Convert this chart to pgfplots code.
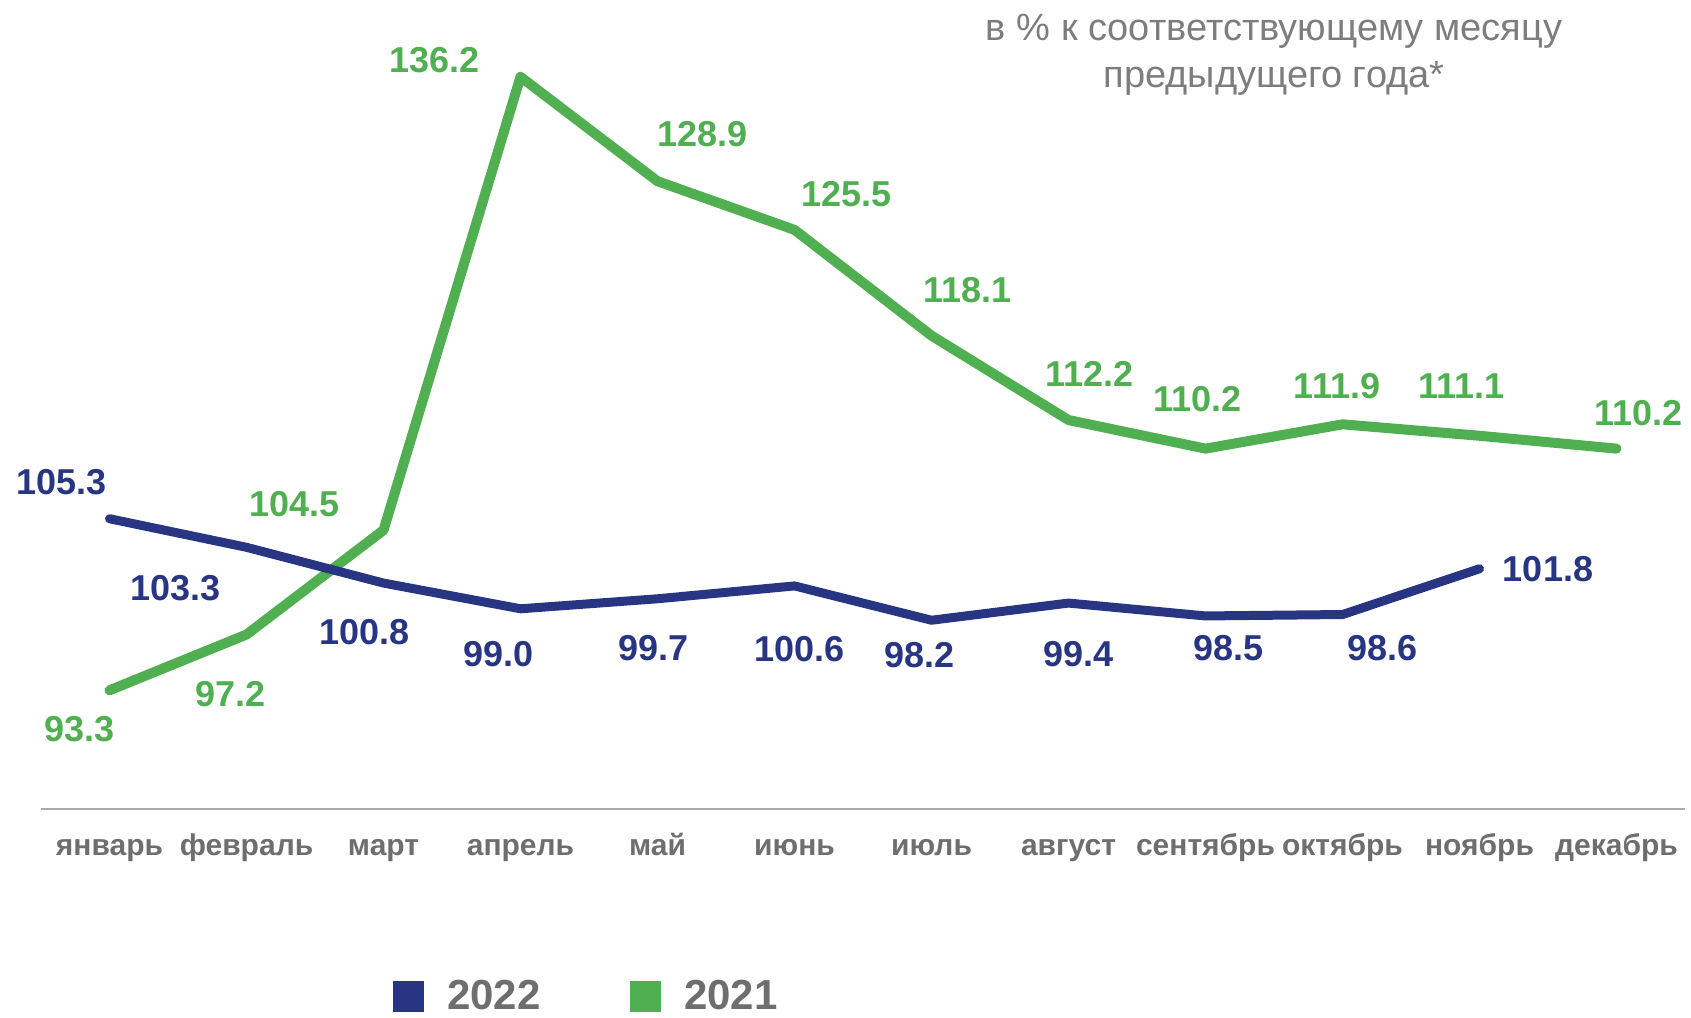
\documentclass[border=0pt]{standalone}
\usepackage{pgfplots}
\pgfplotsset{compat=1.18}
\usepackage{fontspec}
\setmainfont{Liberation Sans}
\definecolor{c22}{RGB}{40,53,131}
\definecolor{c21}{RGB}{80,175,80}
\definecolor{txtgrey}{RGB}{110,110,110}
\definecolor{ttlgrey}{RGB}{125,125,125}
\definecolor{axgrey}{RGB}{170,170,170}
\begin{document}
\begin{tikzpicture}
\useasboundingbox (0,0) rectangle (845.5pt,508.5pt);
\begin{axis}[
    at={(20.5pt,104pt)}, anchor=south west,
    scale only axis,
    width=822pt, height=400.4pt,
    xmin=-0.5, xmax=11.5,
    ymin=85, ymax=141,
    axis x line=bottom, axis y line=none,
    axis line style={-, draw=axgrey, line width=1pt},
    xtick={0,...,11},
    xticklabels={январь,февраль,март,апрель,май,июнь,июль,август,сентябрь,октябрь,ноябрь,декабрь},
    major tick length=0pt,
    xticklabel style={font=\fontsize{15}{18}\selectfont\bfseries, text=txtgrey, anchor=base, yshift=-23pt},
    ytick=\empty,
    clip=false,
    legend columns=2,
    legend style={at={(0.331,-0.234)}, anchor=center, draw=none, fill=none,
        font=\fontsize{21}{25}\selectfont\bfseries, text=txtgrey,
        nodes={inner sep=0pt},
        /tikz/every odd column/.append style={column sep=11.8pt},
        /tikz/every even column/.append style={column sep=44.5pt}},
    legend image code/.code={\fill[#1] (0pt,-7.5pt) rectangle (15pt,7.5pt);},
]
% порядок легенды: 2022, 2021
\addlegendimage{c22, fill=c22}
\addlegendentry{2022}
\addlegendimage{c21, fill=c21}
\addlegendentry{2021}

% 2021
\addplot[c21, line width=5pt, line cap=round, line join=round, forget plot] coordinates {
    (0,93.3) (1,97.2) (2,104.5) (3,136.2) (4,128.9) (5,125.5)
    (6,118.1) (7,112.2) (8,110.2) (9,111.9) (10,111.1) (11,110.2)
};
% 2022
\addplot[c22, line width=4.5pt, line cap=round, line join=round, forget plot] coordinates {
    (0,105.3) (1,103.3) (2,100.8) (3,99.0) (4,99.7) (5,100.6)
    (6,98.2) (7,99.4) (8,98.5) (9,98.6) (10,101.8)
};

% подписи 2021
\begin{scope}[every node/.style={font=\fontsize{18}{20}\selectfont\bfseries, text=c21, inner sep=0pt}]
\node at (axis cs:-0.22,90.59) {93.3};
\node at (axis cs:0.88,93.0) {97.2};
\node at (axis cs:1.35,106.35) {104.5};
\node at (axis cs:2.37,137.34) {136.2};
\node at (axis cs:4.33,132.21) {128.9};
\node at (axis cs:5.38,127.99) {125.5};
\node at (axis cs:6.26,121.28) {118.1};
\node at (axis cs:7.15,115.40) {112.2};
\node at (axis cs:7.94,113.66) {110.2};
\node at (axis cs:8.96,114.57) {111.9};
\node at (axis cs:9.87,114.57) {111.1};
\node at (axis cs:11.16,112.68) {110.2};
\end{scope}

% подписи 2022
\begin{scope}[every node/.style={font=\fontsize{18}{20}\selectfont\bfseries, text=c22, inner sep=0pt}]
\node at (axis cs:-0.35,107.86) {105.3};
\node at (axis cs:0.48,100.46) {103.3};
\node at (axis cs:1.86,97.37) {100.8};
\node at (axis cs:2.84,95.86) {99.0};
\node at (axis cs:3.97,96.24) {99.7};
\node at (axis cs:5.04,96.17) {100.6};
\node at (axis cs:5.91,95.79) {98.2};
\node at (axis cs:7.07,95.86) {99.4};
\node at (axis cs:8.17,96.24) {98.5};
\node at (axis cs:9.29,96.24) {98.6};
\node at (axis cs:10.50,101.75) {101.8};
\end{scope}

\node[align=center, font=\fontsize{19}{23.2}\selectfont, text=ttlgrey] at (axis cs:8.5,137.75)
    {в \% к соответствующему месяцу\\предыдущего года*};
\end{axis}
\end{tikzpicture}
\end{document}
